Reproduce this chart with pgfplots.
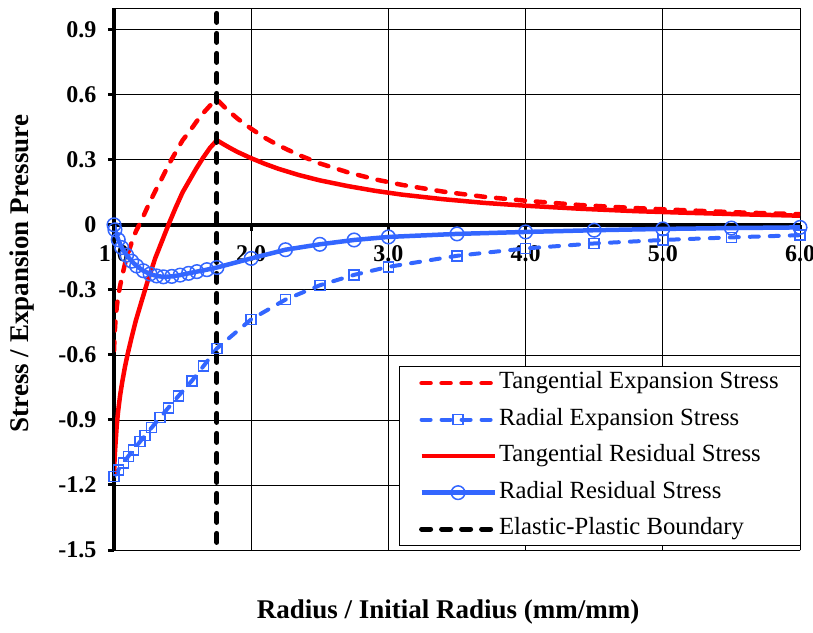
\documentclass[border=0pt]{standalone}
\usepackage{fontspec}
\setmainfont{Liberation Serif}
\usepackage{pgfplots}
\pgfplotsset{compat=1.18}
\definecolor{tanred}{RGB}{255,0,0}
\definecolor{radblue}{RGB}{51,102,255}
\begin{document}
\begin{tikzpicture}
\begin{axis}[
  name=ax,
  scale only axis,
  width=686pt, height=542pt,
  xmin=1, xmax=6, ymin=-1.5, ymax=1.0,
  axis x line=middle, axis y line=left,
  axis line style={-},
  x axis line style={line width=3.5pt},
  y axis line style={line width=4.5pt},
  xtick={1,2,3,4,5,6},
  xticklabels={1.0,2.0,3.0,4.0,5.0,6.0},
  ytick={-1.5,-1.2,-0.9,-0.6,-0.3,0,0.3,0.6,0.9},
  yticklabels={-1.5,-1.2,-0.9,-0.6,-0.3,0,0.3,0.6,0.9},
  hide obscured x ticks=false,
  hide obscured y ticks=false,
  grid=major,
  grid style={black, line width=0.7pt},
  tick style={black, line width=3pt},
  major tick length=6pt,
  tick align=outside,
  xticklabel style={font=\bfseries\fontsize{24}{28}\selectfont, yshift=-11pt},
  yticklabel style={font=\bfseries\fontsize{24}{28}\selectfont, xshift=-8pt},
  xlabel={Radius / Initial Radius (mm/mm)},
  ylabel={Stress / Expansion Pressure},
  xlabel style={font=\bfseries\fontsize{27}{30}\selectfont, at={(axis description cs:0.487,-0.115)}, anchor=center},
  ylabel style={font=\bfseries\fontsize{27}{30}\selectfont, at={(axis description cs:-0.134,0.51)}, anchor=center},
  legend cell align=left,
  legend style={at={(axis description cs:1.0015,0.339)}, anchor=north east,
    font=\fontsize{24.7}{29}\selectfont, draw=black, line width=0.8pt, fill=white,
    inner xsep=20pt, inner ysep=3pt, row sep=9.5pt,
    nodes={text height=17pt, text depth=6pt, inner xsep=2pt}},
  legend image code/.code={\draw[mark repeat=2,mark phase=2,#1] plot coordinates {(0pt,0pt) (36.5pt,0pt) (73pt,0pt)};},
]
% tangential stress at full expansion
\addplot[tanred, line width=4.5pt, dash pattern=on 9pt off 11pt, line cap=round] coordinates {
 (1.000,-0.58) (1.005,-0.50) (1.01,-0.45) (1.02,-0.38) (1.03,-0.33) (1.045,-0.28)
 (1.06,-0.235) (1.08,-0.18) (1.10,-0.135) (1.13,-0.08) (1.16,-0.03) (1.20,0.02)
 (1.25,0.09) (1.30,0.155) (1.35,0.215) (1.40,0.28) (1.45,0.335) (1.50,0.39)
 (1.55,0.43) (1.60,0.475) (1.65,0.515) (1.70,0.55) (1.75,0.578)
 (1.8,0.546) (1.85,0.517) (1.9,0.490) (2.0,0.443) (2.1,0.401) (2.2,0.366)
 (2.35,0.321) (2.5,0.283) (2.7,0.243) (2.9,0.210) (3.1,0.184) (3.4,0.153)
 (3.7,0.129) (4.0,0.111) (4.4,0.091) (4.8,0.077) (5.2,0.066) (5.6,0.056) (6.0,0.049)};
% radial stress at full expansion
\addplot[radblue, line width=4pt, dash pattern=on 9pt off 11pt, line cap=round,
  mark=square, mark size=5pt, mark options={solid, line width=1.5pt}] coordinates {
 (1.0,-1.16) (1.031,-1.13) (1.068,-1.098) (1.104,-1.068) (1.141,-1.038) (1.19,-1.0)
 (1.226,-0.972) (1.275,-0.935) (1.336,-0.889) (1.396,-0.844) (1.469,-0.79)
 (1.567,-0.72) (1.652,-0.652) (1.75,-0.57)
 (2.0,-0.436) (2.25,-0.345) (2.5,-0.279) (2.75,-0.231) (3.0,-0.194) (3.5,-0.143)
 (4.0,-0.109) (4.5,-0.086) (5.0,-0.070) (5.5,-0.058) (6.0,-0.048)};
% tangential residual stress
\addplot[tanred, line width=4.5pt] coordinates {
 (1.000,-1.15) (1.005,-1.07) (1.01,-1.02) (1.02,-0.925) (1.03,-0.86) (1.045,-0.785)
 (1.06,-0.725) (1.08,-0.655) (1.10,-0.595) (1.13,-0.515) (1.16,-0.44) (1.20,-0.355)
 (1.25,-0.25) (1.30,-0.155) (1.35,-0.075) (1.40,0.005) (1.45,0.08) (1.50,0.15)
 (1.55,0.205) (1.60,0.26) (1.65,0.31) (1.70,0.355) (1.75,0.39)
 (1.8,0.371) (1.85,0.353) (1.9,0.336) (2.0,0.307) (2.1,0.281) (2.2,0.258)
 (2.35,0.229) (2.5,0.205) (2.7,0.179) (2.9,0.157) (3.1,0.139) (3.4,0.118)
 (3.7,0.101) (4.0,0.088) (4.4,0.074) (4.8,0.063) (5.2,0.055) (5.6,0.048) (6.0,0.042)};
% radial residual stress
\addplot[radblue, line width=4.5pt, mark=o, mark size=6.8pt, mark options={line width=1.5pt}] coordinates {
 (1.0,0.0) (1.007,-0.023) (1.031,-0.069) (1.056,-0.105) (1.092,-0.140) (1.129,-0.168)
 (1.165,-0.19) (1.214,-0.212) (1.263,-0.227) (1.311,-0.236) (1.36,-0.24) (1.421,-0.238)
 (1.482,-0.232) (1.543,-0.224) (1.604,-0.216) (1.677,-0.207) (1.75,-0.197)
 (2.0,-0.155) (2.25,-0.115) (2.5,-0.09) (2.75,-0.07) (3.0,-0.056) (3.5,-0.042)
 (4.0,-0.033) (4.5,-0.025) (5.0,-0.019) (5.5,-0.015) (6.0,-0.012)};
% elastic-plastic boundary
\addplot[black, line width=5pt, dash pattern=on 9pt off 11pt, line cap=round] coordinates {
 (1.75,0.975) (1.75,-1.5)};
\legend{Tangential Expansion Stress, Radial Expansion Stress, Tangential Residual Stress, Radial Residual Stress, Elastic-Plastic Boundary}
% plot frame
\draw[black, line width=0.8pt] (rel axis cs:0,0) rectangle (rel axis cs:1,1);
\end{axis}
\pgfresetboundingbox
\path[use as bounding box] ([shift={(-114pt,-82pt)}]ax.south west) rectangle ([shift={(13pt,8pt)}]ax.north east);
\end{tikzpicture}
\end{document}
